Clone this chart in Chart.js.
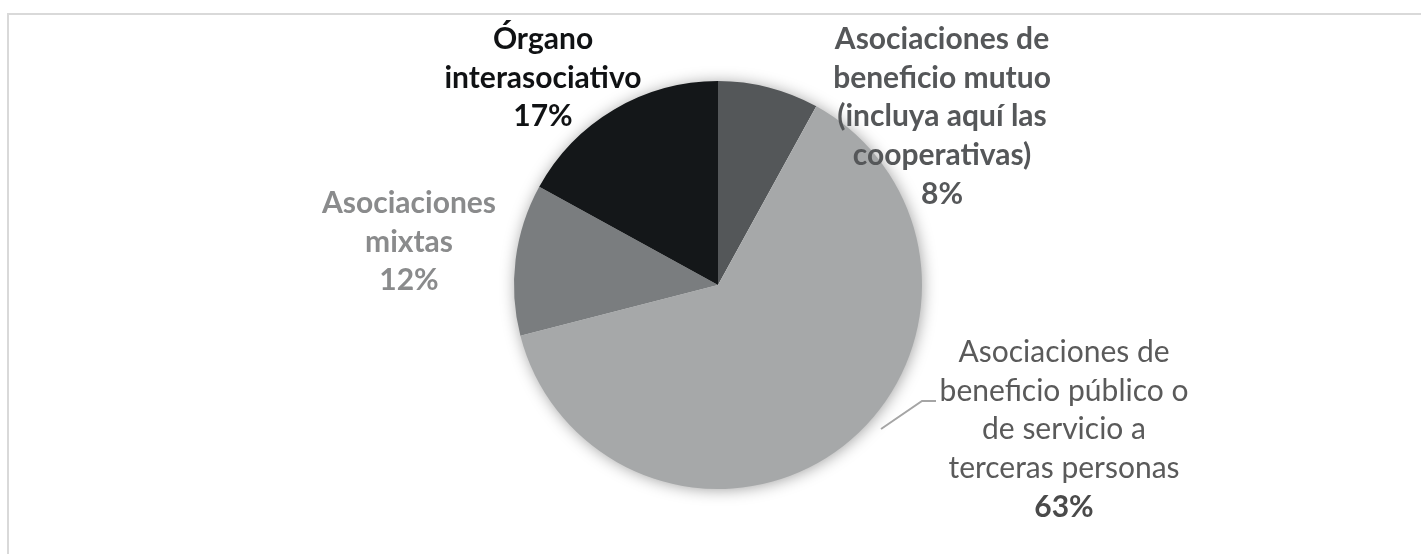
<!DOCTYPE html>
<html>
<head>
<meta charset="utf-8">
<script src="https://cdn.jsdelivr.net/npm/chart.js@4"></script>
<style>
  html, body { margin: 0; padding: 0; background: #fff; }
  #wrap { position: relative; width: 1421px; height: 554px; }
</style>
</head>
<body>
<div id="wrap"><canvas id="pieChart" width="1421" height="554"></canvas></div>
<script>
// categories and values
const categories = [
  'Asociaciones de beneficio mutuo (incluya aquí las cooperativas)',
  'Asociaciones de beneficio público o de servicio a terceras personas',
  'Asociaciones mixtas',
  'Órgano interasociativo'
];
const shares = [8, 63, 12, 17];
const sliceColors = ['#545759', '#a6a8a9', '#7a7d7f', '#141719'];

// label lines as shown in the chart (the percentage goes underneath)
const labelLines = [
  ['Asociaciones de', 'beneficio mutuo', '(incluya aquí las', 'cooperativas)'],
  ['Asociaciones de', 'beneficio público o', 'de servicio a', 'terceras personas'],
  ['Asociaciones', 'mixtas'],
  ['Órgano', 'interasociativo']
];

// where each label block sits (center x, first baseline y) and how it looks
const labelStyle = [
  { x: 942, y: 49, color: '#555759', bold: true, pctColor: '#555759' },
  { x: 1064, y: 362, color: '#5a5a5a', bold: false, pctColor: '#4a4a4a' },
  { x: 409, y: 213, color: '#8a8b8c', bold: true, pctColor: '#8a8b8c' },
  { x: 543, y: 49, color: '#101214', bold: true, pctColor: '#101214' }
];
const lineGap = 38.7;

// frame + soft shadow under the pie
const decorPlugin = {
  id: 'decor',
  beforeDraw(chart) {
    const ctx = chart.ctx;
    ctx.save();
    ctx.strokeStyle = '#d9d9d9';
    ctx.lineWidth = 2;
    ctx.strokeRect(8, 14, 1600, 700);
    ctx.restore();
  },
  beforeDatasetsDraw(chart) {
    const arc = chart.getDatasetMeta(0).data[0];
    if (!arc) return;
    const ctx = chart.ctx;
    ctx.save();
    ctx.shadowColor = 'rgba(0,0,0,0.4)';
    ctx.shadowBlur = 16;
    ctx.shadowOffsetX = 1;
    ctx.shadowOffsetY = 1;
    ctx.fillStyle = '#fff';
    ctx.beginPath();
    ctx.arc(arc.x, arc.y, arc.outerRadius - 1, 0, Math.PI * 2);
    ctx.fill();
    ctx.restore();
  }
};

// text labels and the single leader line
const labelPlugin = {
  id: 'sliceLabels',
  afterDatasetsDraw(chart) {
    const ctx = chart.ctx;
    ctx.save();
    ctx.textAlign = 'center';
    ctx.textBaseline = 'alphabetic';

    // leader line for the big slice
    ctx.strokeStyle = '#a5a5a5';
    ctx.lineWidth = 2;
    ctx.beginPath();
    ctx.moveTo(881, 429);
    ctx.lineTo(922, 401);
    ctx.lineTo(936, 401);
    ctx.stroke();

    labelLines.forEach((lines, i) => {
      const s = labelStyle[i];
      ctx.fillStyle = s.color;
      ctx.font = (s.bold ? 'bold 30px' : '30px') + ' Lato, "Open Sans", sans-serif';
      lines.forEach((t, j) => ctx.fillText(t, s.x, s.y + j * lineGap));
      ctx.fillStyle = s.pctColor;
      ctx.font = 'bold 30px Lato, "Open Sans", sans-serif';
      ctx.fillText(shares[i] + '%', s.x, s.y + lines.length * lineGap);
    });
    ctx.restore();
  }
};

new Chart(document.getElementById('pieChart'), {
  type: 'pie',
  data: {
    labels: categories,
    datasets: [{
      data: shares,
      backgroundColor: sliceColors,
      borderWidth: 0
    }]
  },
  options: {
    responsive: false,
    animation: false,
    layout: { padding: { left: 514, right: 499, top: 81, bottom: 65 } },
    plugins: {
      legend: { display: false },
      tooltip: { enabled: false }
    }
  },
  plugins: [decorPlugin, labelPlugin]
});
</script>
</body>
</html>
